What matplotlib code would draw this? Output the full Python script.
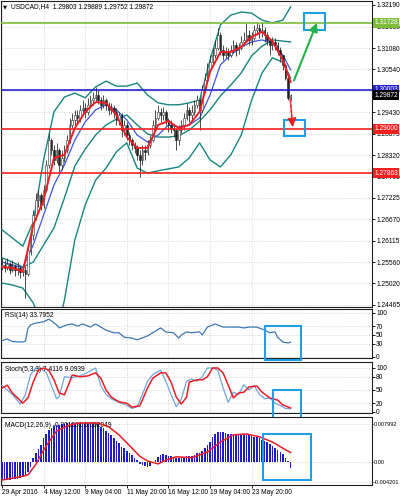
import numpy as np
import matplotlib
matplotlib.use('Agg')
import matplotlib.pyplot as plt
import matplotlib.transforms as mtransforms
from matplotlib.patches import Rectangle

# ---------------- data ----------------
title_text = "USDCAD,H4  1.29803 1.29889 1.29752 1.29872"
first_open = 1.2545
close = [1.2550,1.2542,1.2552,1.2537,1.2547,1.2537,1.2542,1.2532,1.2537,1.2526,
         1.2588,1.2627,1.2678,1.2717,1.2730,1.2704,1.2743,1.2807,1.2871,1.2846,
         1.2820,1.2846,1.2807,1.2825,1.2846,1.2871,1.2910,1.2923,1.2936,1.2928,
         1.2949,1.2954,1.2944,1.2962,1.2974,1.2980,1.2987,1.2974,1.2962,1.2974,
         1.2962,1.2949,1.2954,1.2944,1.2923,1.2936,1.2897,1.2910,1.2884,1.2871,
         1.2859,1.2851,1.2833,1.2820,1.2846,1.2841,1.2859,1.2871,1.2910,1.2928,
         1.2944,1.2936,1.2944,1.2923,1.2910,1.2902,1.2897,1.2871,1.2897,1.2910,
         1.2928,1.2949,1.2936,1.2944,1.2962,1.2974,1.2949,1.3000,1.3026,1.3052,
         1.3072,1.3090,1.3108,1.3142,1.3103,1.3090,1.3098,1.3090,1.3103,1.3116,
         1.3103,1.3108,1.3124,1.3129,1.3142,1.3129,1.3134,1.3155,1.3160,1.3150,
         1.3155,1.3142,1.3129,1.3116,1.3124,1.3116,1.3103,1.3090,1.3065,1.3031,
         1.29803,1.29872]
high = [1.2568,1.2562,1.2568,1.2557,1.2562,1.2552,1.2557,1.2550,1.2552,1.2547,
        1.2601,1.2640,1.2691,1.2735,1.2743,1.2735,1.2756,1.2820,1.2889,1.2877,
        1.2859,1.2864,1.2851,1.2846,1.2859,1.2884,1.2928,1.2941,1.2949,1.2949,
        1.2962,1.2974,1.2967,1.2980,1.2987,1.2995,1.3008,1.3000,1.2982,1.2987,
        1.2980,1.2969,1.2967,1.2962,1.2954,1.2944,1.2941,1.2923,1.2918,1.2892,
        1.2877,1.2866,1.2859,1.2846,1.2859,1.2859,1.2871,1.2884,1.2923,1.2949,
        1.2962,1.2954,1.2956,1.2949,1.2928,1.2923,1.2913,1.2902,1.2910,1.2923,
        1.2941,1.2967,1.2956,1.2962,1.2974,1.2987,1.2980,1.3013,1.3044,1.3070,
        1.3090,1.3108,1.3129,1.3160,1.3150,1.3116,1.3111,1.3108,1.3116,1.3129,
        1.3124,1.3121,1.3139,1.3150,1.3173,1.3155,1.3150,1.3168,1.3175,1.3170,
        1.3175,1.3162,1.3150,1.3134,1.3137,1.3134,1.3124,1.3111,1.3090,1.3070,
        1.3034,1.29889]
low = [1.2537,1.2532,1.2537,1.2526,1.2532,1.2521,1.2524,1.2516,1.2521,1.2465,
       1.2521,1.2575,1.2614,1.2665,1.2699,1.2691,1.2696,1.2738,1.2799,1.2833,
       1.2807,1.2812,1.2789,1.2794,1.2815,1.2838,1.2864,1.2902,1.2910,1.2915,
       1.2918,1.2936,1.2928,1.2936,1.2954,1.2962,1.2969,1.2964,1.2949,1.2954,
       1.2949,1.2936,1.2938,1.2928,1.2910,1.2910,1.2879,1.2884,1.2871,1.2859,
       1.2846,1.2838,1.2820,1.2776,1.2807,1.2820,1.2833,1.2851,1.2866,1.2902,
       1.2923,1.2918,1.2923,1.2910,1.2892,1.2889,1.2879,1.2846,1.2859,1.2889,
       1.2897,1.2923,1.2918,1.2923,1.2936,1.2954,1.2897,1.2944,1.2992,1.3018,
       1.3047,1.3065,1.3083,1.3103,1.3090,1.3077,1.3083,1.3077,1.3085,1.3095,
       1.3088,1.3093,1.3103,1.3113,1.3124,1.3116,1.3116,1.3129,1.3142,1.3134,
       1.3137,1.3124,1.3116,1.3090,1.3103,1.3103,1.3090,1.3072,1.3052,1.3026,
       1.2974,1.29752]

# overlay indicators on price chart, sampled at these bars
ind_idx = [0,4,8,12,16,20,24,28,32,36,40,44,48,52,56,60,64,68,72,76,80,84,88,92,96,100,104,108,111]
bb_upper = [1.2640,1.2619,1.2598,1.2660,1.2820,1.2944,1.2982,1.2992,1.2980,1.3008,1.3023,1.3010,1.3010,1.3018,
            1.2987,1.2967,1.2962,1.2962,1.2967,1.2974,1.3077,1.3168,1.3193,1.3201,1.3198,1.3180,1.3173,1.3180,1.3214]
bb_middle = [1.2568,1.2557,1.2544,1.2557,1.2601,1.2645,1.2722,1.2804,1.2848,1.2884,1.2910,1.2925,1.2936,1.2910,
             1.2887,1.2879,1.2879,1.2882,1.2897,1.2920,1.2949,1.2985,1.3013,1.3044,1.3088,1.3113,1.3129,1.3126,1.3124]
bb_lower = [1.2503,1.2498,1.2490,1.2452,1.2382,1.2344,1.2459,1.2614,1.2704,1.2768,1.2799,1.2841,1.2864,1.2799,
            1.2786,1.2792,1.2797,1.2802,1.2825,1.2864,1.2820,1.2802,1.2833,1.2884,1.2974,1.3044,1.3083,1.3072,1.3031]
ma_slow = [1.2557,1.2550,1.2542,1.2601,1.2678,1.2756,1.2807,1.2871,1.2918,1.2949,1.2962,1.2949,1.2923,1.2884,
           1.2866,1.2884,1.2910,1.2905,1.2910,1.2928,1.2987,1.3065,1.3090,1.3111,1.3124,1.3129,1.3121,1.3090,1.3052]
ma_fast = [1.2544,1.2542,1.2532,1.2652,1.2717,1.2825,1.2833,1.2902,1.2944,1.2969,1.2967,1.2936,1.2879,1.2851,
           1.2851,1.2910,1.2920,1.2902,1.2910,1.2944,1.3047,1.3098,1.3098,1.3111,1.3137,1.3150,1.3126,1.3077,1.3021]

price_ticks = [1.32190,1.31635,1.31080,1.30540,1.29985,1.29430,1.28875,1.28320,1.27765,1.27225,
               1.26670,1.26115,1.25560,1.25020,1.24465]
levels = [1.31728, 1.30003, 1.29000, 1.27863]
level_colors = ['#7dbd3a', '#2222cc', '#f42020', '#f42020']
last_price = 1.29872

# RSI
rsi_title = "RSI(14) 33.7952"
rsi_idx = [0,2,4,8,9,10,11,13,16,18,19,21,22,25,27,29,31,34,36,38,40,43,45,47,50,52,56,58,61,63,66,68,69,71,73,76,77,79,82,85,88,91,93,95,98,101,103,105,106,108,110,111]
rsi_val = [37,41,35,34,36,65,73,77,80,86,82,73,66,73,75,70,75,68,75,68,61,55,55,45,43,39,48,55,66,57,55,43,50,57,55,57,50,68,75,68,68,68,66,68,68,61,55,57,45,34,32,33.8]
rsi_ticks = [100, 70, 50, 30, 0]

# Stochastic
stoch_title = "Stoch(5,3,3) 7.4116 9.0939"
stk_idx = [0,2,4,7,9,11,13,15,17,19,21,22,24,27,30,33,36,38,40,42,45,48,50,52,54,56,58,61,63,65,67,69,71,73,75,77,79,81,83,85,87,89,91,93,95,97,99,101,103,105,107,109,111]
stk_val = [60,50,40,18,40,85,100,98,90,60,30,35,80,78,82,90,100,60,40,30,22,15,8,12,40,70,85,95,70,40,12,30,70,75,70,80,100,100,95,55,22,45,40,62,50,60,40,30,32,20,15,8,7.4]
std_idx = [0,2,4,8,10,12,14,16,18,20,22,24,26,27,30,33,36,38,40,42,45,48,50,53,56,58,61,63,65,67,69,71,72,75,77,79,81,83,85,87,89,91,93,95,98,100,103,106,108,111]
std_val = [54,61,43,20,32,68,95,100,95,73,43,39,68,84,80,82,89,77,50,34,23,20,11,14,55,77,89,89,68,34,18,34,68,73,73,80,100,100,89,61,32,43,45,57,59,45,32,27,16,9.1]
stoch_ticks = [100, 80, 50, 20, 0]

# MACD
macd_title = "MACD(12,26,9) -0.001201 0.002049"
macd_hist = [-0.0038,-0.0038,-0.0037,-0.0037,-0.0036,-0.0036,-0.0035,-0.0034,-0.0032,-0.0030,
             -0.0022,-0.0010,0.0008,0.0018,0.0028,0.0036,0.0050,0.0058,0.0068,0.0072,
             0.0076,0.0078,0.0078,0.0079,0.0080,0.0081,0.0082,0.0082,0.0082,0.0082,
             0.0083,0.0083,0.0082,0.0082,0.0082,0.0082,0.0082,0.0080,0.0074,0.0071,
             0.0066,0.0060,0.0056,0.0050,0.0045,0.0040,0.0032,0.0029,0.0023,0.0018,
             0.0014,0.0009,0.0004,-0.0004,-0.0007,-0.0009,-0.0010,-0.0008,-0.0003,0.0004,
             0.0010,0.0014,0.0016,0.0015,0.0013,0.0012,0.0010,0.0008,0.0009,0.0010,
             0.0011,0.0012,0.0012,0.0013,0.0015,0.0018,0.0019,0.0024,0.0030,0.0035,
             0.0043,0.0052,0.0058,0.0063,0.0064,0.0063,0.0061,0.0059,0.0058,0.0058,
             0.0058,0.0059,0.0059,0.0058,0.0057,0.0056,0.0054,0.0053,0.0052,0.0050,
             0.0047,0.0044,0.0041,0.0037,0.0034,0.0030,0.0026,0.0022,0.0016,0.0008,
             0.0002,-0.0012]
sig_idx = [0,8,10,13,16,18,21,26,30,37,41,45,50,53,56,60,63,67,73,79,84,89,94,99,104,108,111]
sig_val = [-0.0038,-0.0030,-0.0027,-0.0005,0.0025,0.0042,0.0065,0.0078,0.0082,0.0082,0.0074,0.0057,0.0029,0.0012,
           0.0002,-0.0004,0.0004,0.0011,0.0009,0.0021,0.0042,0.0057,0.0059,0.0053,0.0042,0.0029,0.0020]
macd_ticks = [0.007992, 0.0, -0.004201]
macd_ticklabels = ['0.007992', '0.00', '-0.004201']

date_idx = [0, 16, 32, 48, 64, 80, 96]
date_labels = ['29 Apr 2016', '4 May 12:00', '9 May 04:00', '11 May 20:00',
               '16 May 12:00', '19 May 04:00', '23 May 20:00']

# annotations (bar index, value)
main_boxes = [((116.2, 1.3155), (124.2, 1.3198)), ((108.5, 1.2882), (116.5, 1.2923))]
rsi_box = ((101.2, -7.0), (115.0, 70.5))
stoch_box = ((104.2, -30.0), (115.0, 50.0))
macd_box = ((100.4, -0.0038), (118.8, 0.0059))
green_arrow = ((111.9, 1.3018), (121.5, 1.3180))
red_arrow = ((110.8, 1.2982), (111.9, 1.2897))

# ---------------- drawing ----------------
FS = 4.8
plt.rcParams['font.family'] = ['Liberation Sans', 'DejaVu Sans']
fig = plt.figure(figsize=(4.0, 4.98), dpi=100)
fig.patch.set_facecolor('white')

L, W = 1/400, 371/400
def fy(ytop, ybot):
    return [L, 1 - ybot/498, W, (ybot - ytop)/498]

ax = fig.add_axes(fy(1, 307))
ax_r = fig.add_axes(fy(309, 358))
ax_s = fig.add_axes(fy(362, 413))
ax_m = fig.add_axes(fy(417, 485))
XL = (-0.385, 142.3)
grid_kw = dict(color='#c8c8c8', ls=(0, (1, 2)), lw=0.6)
cyan = '#1e9fe4'

for a in (ax, ax_r, ax_s, ax_m):
    a.set_xlim(*XL)
    a.yaxis.tick_right()
    a.tick_params(axis='y', direction='out', length=2.0, width=0.6, pad=1.0, labelsize=FS)
    a.set_xticks(date_idx)
    a.tick_params(axis='x', direction='out', length=2.0, width=0.6, labelsize=FS, pad=1.0)
    a.grid(True, **grid_kw)
    a.set_axisbelow(True)
    for sp in a.spines.values():
        sp.set_linewidth(0.8)
        sp.set_color('#202020')
for a in (ax, ax_r, ax_s):
    a.set_xticklabels([])
    a.tick_params(axis='x', length=0)

# ---- main price chart ----
n = len(close)
xi = np.arange(n)
opn = np.array([first_open] + close[:-1])
cl = np.array(close)
hi = np.array(high)
lo = np.array(low)
ax.set_ylim(1.24413, 1.32293)
ax.set_yticks(price_ticks)
ax.set_yticklabels(['%.5f' % t for t in price_ticks])

ax.plot(ind_idx, bb_upper, color='#18857f', lw=1.0, zorder=3)
ax.plot(ind_idx, bb_middle, color='#18857f', lw=1.0, zorder=3)
ax.plot(ind_idx, bb_lower, color='#18857f', lw=1.0, zorder=3)
ax.plot(ind_idx, ma_slow, color='#3a55e0', lw=0.9, zorder=3)

ax.vlines(xi, lo, hi, color='#303030', lw=0.6, zorder=4)
up = cl >= opn
body_lo = np.minimum(opn, cl)
body_h = np.maximum(np.abs(cl - opn), 0.00005)
ax.bar(xi[up], body_h[up], bottom=body_lo[up], width=0.6, color='white',
       edgecolor='#303030', lw=0.4, zorder=5)
ax.bar(xi[~up], body_h[~up], bottom=body_lo[~up], width=0.6, color='#202020',
       edgecolor='#202020', lw=0.4, zorder=5)

ax.plot(ind_idx, ma_fast, color='#ee1c24', lw=1.4, zorder=6)

ytrans = mtransforms.blended_transform_factory(ax.transAxes, ax.transData)
box_kw = dict(boxstyle='square,pad=0.2', ec='none')
for lv, c in zip(levels, level_colors):
    ax.axhline(lv, color=c, lw=1.2, zorder=7)
    ax.text(1.006, lv, '%.5f' % lv, transform=ytrans, ha='left', va='center',
            fontsize=FS, color='white', clip_on=False, zorder=20,
            bbox=dict(fc=c, **box_kw))
ax.text(1.006, last_price, '%.5f' % last_price, transform=ytrans, ha='left', va='center',
        fontsize=FS, color='white', clip_on=False, zorder=21,
        bbox=dict(fc='black', **box_kw))

for (x0, y0), (x1, y1) in main_boxes:
    ax.add_patch(Rectangle((x0, y0), x1 - x0, y1 - y0, fill=False, ec=cyan, lw=1.5, zorder=9))
ax.annotate('', xy=green_arrow[1], xytext=green_arrow[0],
            arrowprops=dict(arrowstyle='-|>,head_width=0.25,head_length=0.5',
                            color='#22b14c', lw=1.5), zorder=10)
ax.annotate('', xy=red_arrow[1], xytext=red_arrow[0],
            arrowprops=dict(arrowstyle='-|>,head_width=0.25,head_length=0.5',
                            color='#ee1c24', lw=1.2, ls=(0, (2, 1))), zorder=10)

fig.text(3/400, 1 - 6.5/498, '\u25BC', fontsize=3.8, va='center', ha='left',
         family=['DejaVu Sans'])
fig.text(11/400, 1 - 6.5/498, title_text, fontsize=FS, va='center', ha='left')

# ---- RSI ----
ax_r.set_ylim(-2.3, 109)
ax_r.set_yticks(rsi_ticks)
ax_r.set_yticklabels([str(t) for t in rsi_ticks])
ax_r.plot(rsi_idx, rsi_val, color='#3d78b4', lw=0.9, zorder=3)
ax_r.text(0.01, 0.86, rsi_title, transform=ax_r.transAxes, fontsize=FS, va='center')
(x0, y0), (x1, y1) = rsi_box
ax_r.add_patch(Rectangle((x0, y0), x1 - x0, y1 - y0, fill=False, ec=cyan, lw=1.5,
                         zorder=9, clip_on=False))

# ---- Stochastic ----
ax_s.set_ylim(-2.3, 113.6)
ax_s.set_yticks(stoch_ticks)
ax_s.set_yticklabels([str(t) for t in stoch_ticks])
ax_s.plot(stk_idx, stk_val, color='#6ea6de', lw=0.9, zorder=3)
ax_s.plot(std_idx, std_val, color='#ee1c24', lw=1.1, zorder=4)
ax_s.text(0.01, 0.86, stoch_title, transform=ax_s.transAxes, fontsize=FS, va='center')
(x0, y0), (x1, y1) = stoch_box
ax_s.add_patch(Rectangle((x0, y0), x1 - x0, y1 - y0, fill=False, ec=cyan, lw=1.5,
                         zorder=9, clip_on=False))

# ---- MACD ----
ax_m.set_ylim(-0.00484, 0.00946)
ax_m.set_yticks(macd_ticks)
ax_m.set_yticklabels(macd_ticklabels)
ax_m.tick_params(axis='y', labelsize=4.1, pad=0.3, length=1.0)
ax_m.bar(xi, macd_hist, width=0.55, color='#1c1ccc', zorder=3)
ax_m.plot(sig_idx, sig_val, color='#ee1c24', lw=1.1, zorder=4)
ax_m.text(0.01, 0.88, macd_title, transform=ax_m.transAxes, fontsize=FS, va='center')
(x0, y0), (x1, y1) = macd_box
ax_m.add_patch(Rectangle((x0, y0), x1 - x0, y1 - y0, fill=False, ec=cyan, lw=1.5,
                         zorder=9, clip_on=False))
ax_m.set_xticklabels(date_labels, ha='left')

fig.savefig('out.png', dpi=100)
